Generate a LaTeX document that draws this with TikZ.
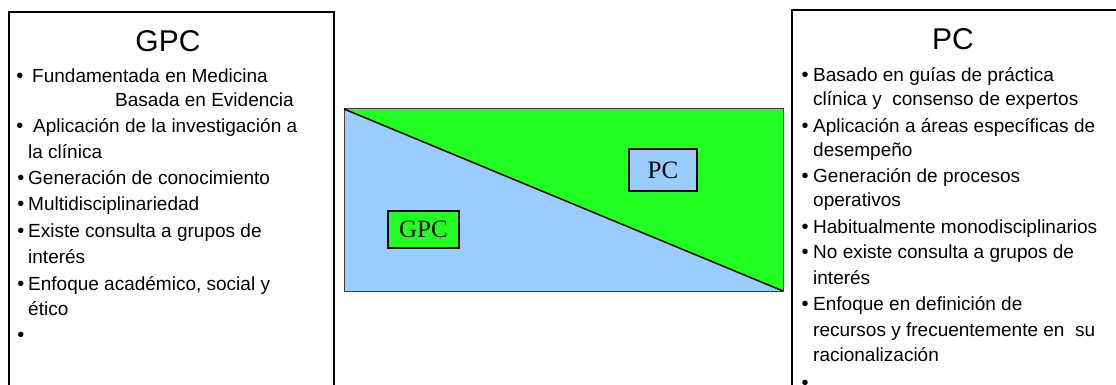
\documentclass[tikz,border=0pt]{standalone}
\usepackage{fontspec}
\setmainfont{Liberation Sans}
\newfontfamily\tagfont{Liberation Serif}
\definecolor{gpcblue}{HTML}{99CCFF}
\definecolor{pcgreen}{HTML}{22FF22}

\begin{document}
\begin{tikzpicture}[x=1pt,y=-1pt,
  ln/.style={anchor=base west,inner sep=0pt,font=\fontsize{19}{19}\selectfont},
  dot/.style={anchor=base,inner sep=0pt,font=\fontsize{20}{20}\selectfont},
  ttl/.style={anchor=base,inner sep=0pt,font=\fontsize{30}{30}\selectfont},
  tag/.style={draw,line width=1.3pt,inner sep=0pt,font=\tagfont\fontsize{25}{25}\selectfont}]
\useasboundingbox (0,0) rectangle (1116,385);

% the two text boxes (cut at the lower and right edge)
\begin{scope}
\clip (0,0) rectangle (1116,385);
\draw[line width=1.4pt] (9,12) rectangle (334,400);
\draw[line width=1.4pt] (792,10) rectangle (1130,400);
\end{scope}

%-------------------------------------
\node[ttl] (gpct) at (168,52) {GPC};

\node[dot] (gb1) at (20,83) {•};
\node[ln] (g1) at (32,83) {Fundamentada en Medicina};
\node[ln] (g2) at (115,107) {Basada en Evidencia};
\node[dot] (gb2) at (20,132) {•};
\node[ln] (g3) at (33,132) {Aplicación de la investigación a};
\node[ln] (g4) at (28,158) {la clínica};
\node[dot] (gb3) at (21,184) {•};
\node[ln] (g5) at (28,184) {Generación de conocimiento};
\node[dot] (gb4) at (21,210) {•};
\node[ln] (g6) at (28,210) {Multidisciplinariedad};
\node[dot] (gb5) at (21,237) {•};
\node[ln] (g7) at (28,237) {Existe consulta a grupos de};
\node[ln] (g8) at (28,263) {interés};
\node[dot] (gb6) at (21,290) {•};
\node[ln] (g9) at (28,290) {Enfoque académico, social y};
\node[ln] (g10) at (28,315) {ético};
\node[dot] (gb7) at (21,341) {•};

%-------------------------------------
\coordinate (tl) at (344,109);
\coordinate (tr) at (783,109);
\coordinate (bl) at (344,291);
\coordinate (br) at (783,291);

\fill[gpcblue] (tl) -- (bl) -- (br) -- cycle;
\fill[pcgreen] (tl) -- (tr) -- (br) -- cycle;
\draw[black!75,line width=1pt] (tl) rectangle (br);
\draw[line width=1.5pt] (tl) -- (br);

\node[tag,fill=gpcblue,minimum width=68pt,minimum height=42pt] (pctag) at (663,170) {PC};
\node[tag,fill=pcgreen,minimum width=71pt,minimum height=37pt] (gpctag) at (423.5,229.5) {GPC};

%-------------------------------------
\node[ttl] (pct) at (953,50) {PC};

\node[dot] (pb1) at (805,82) {•};
\node[ln] (p1) at (813,82) {Basado en guías de práctica};
\node[ln] (p2) at (813,106) {clínica y\ \ consenso de expertos};
\node[dot] (pb2) at (805,132) {•};
\node[ln] (p3) at (813,132) {Aplicación a áreas específicas de};
\node[ln] (p4) at (813,157) {desempeño};
\node[dot] (pb3) at (805,182) {•};
\node[ln] (p5) at (813,182) {Generación de procesos};
\node[ln] (p6) at (813,206) {operativos};
\node[dot] (pb4) at (805,233) {•};
\node[ln] (p7) at (813,233) {Habitualmente monodisciplinarios};
\node[dot] (pb5) at (805,258) {•};
\node[ln] (p8) at (813,258) {No existe consulta a grupos de};
\node[ln] (p9) at (813,284) {interés};
\node[dot] (pb6) at (805,310) {•};
\node[ln] (p10) at (813,310) {Enfoque en definición de};
\node[ln] (p11) at (813,336) {recursos y frecuentemente en\ \ su};
\node[ln] (p12) at (813,361) {racionalización};
\node[dot] (pb7) at (805,389) {•};
\end{tikzpicture}
\end{document}
